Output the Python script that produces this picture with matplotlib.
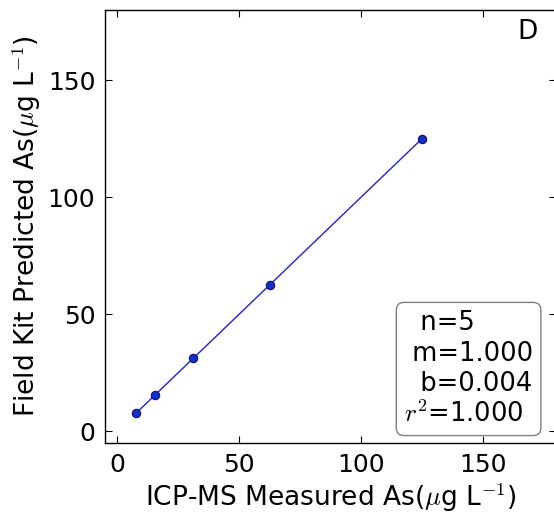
import numpy as np
import matplotlib
matplotlib.use("Agg")
import matplotlib.pyplot as plt

plt.rcParams['mathtext.fontset'] = 'cm'

# data
icpms = [7.8, 15.6, 31.25, 62.5, 125.0]
kit = [7.8, 15.6, 31.25, 62.5, 125.0]
stats_txt = "  n=5\n m=1.000\n  b=0.004\n$r^2$=1.000"
xticks = [0, 50, 100, 150]
yticks = [0, 50, 100, 150]

W, H = 554, 514
fig = plt.figure(figsize=(W/100, H/100), dpi=100)
ax = fig.add_axes([105/W, (H-443)/H, (556-105)/W, (443-10)/H])

m, b = np.polyfit(icpms, kit, 1)
xs = np.array([min(icpms), max(icpms)])
ax.plot(xs, m*xs + b, color='#2020e0', lw=1.0, zorder=2)
ax.plot(icpms, kit, 'o', color='#1030d0', mec='#101060', ms=6, mew=0.8, zorder=3)

ax.set_xlim(-5, 180)
ax.set_ylim(-5, 180)
ax.set_xticks(xticks)
ax.set_yticks(yticks)
ax.tick_params(direction='in', top=True, right=True, labelsize=18, length=5, pad=7)
for s in ax.spines.values():
    s.set_linewidth(1.0)

ax.set_xlabel(r"ICP-MS Measured As($\mu$g L$^{-1}$)", fontsize=19, labelpad=3)
ax.set_ylabel(r"Field Kit Predicted As($\mu$g L$^{-1}$)", fontsize=19, labelpad=3)

ax.text(0.96, 0.98, "D", transform=ax.transAxes, fontsize=19, ha='right', va='top')
ax.text(0.663, 0.035, stats_txt, transform=ax.transAxes, fontsize=18.5, ha='left', va='bottom',
        linespacing=1.22,
        bbox=dict(boxstyle='round,pad=0.3', fc='white', ec='gray'))

fig.savefig("out.png", dpi=100)
